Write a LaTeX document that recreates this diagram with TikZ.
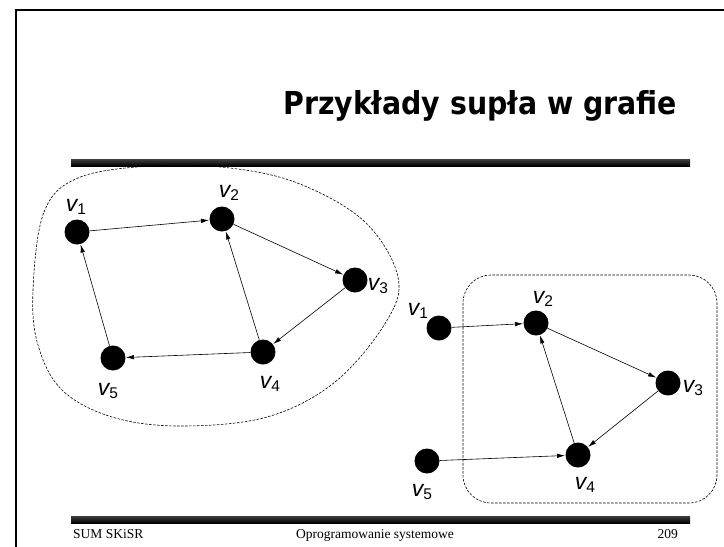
\documentclass[tikz,border=0pt]{standalone}
\usepackage{fontspec}
\setmainfont{Liberation Serif}
\newfontfamily\labfont{Liberation Sans}
\newfontfamily\titlefont{DejaVu Sans}
\usetikzlibrary{arrows.meta}
\newcommand{\vlab}[1]{{\labfont\fontsize{23}{23}\selectfont\itshape v}\raisebox{-2.5pt}{\labfont\fontsize{15.5}{15.5}\selectfont #1}}
\tikzset{
  vert/.style={circle,fill=black,minimum size=25pt,inner sep=0pt},
  lab/.style={inner sep=0pt,anchor=center},
  edge/.style={line width=0.6pt,-{Latex[length=8pt,width=4.5pt]},shorten >=0.3pt},
  outline/.style={line width=0.6pt,dash pattern=on 2.5pt off 1.5pt},
  rulebar/.style={top color=black!75,bottom color=black},
  foot/.style={inner sep=0pt,font=\fontsize{13.5}{13.5}\selectfont}
}
\begin{document}
\begin{tikzpicture}[x=1pt,y=-1pt]
\useasboundingbox (0,0) rectangle (724,547);
\fill[white] (0,0) rectangle (724,547);
% frame
\draw[line width=2.5pt] (16,560) -- (16,10) -- (740,10);
% title
\node[inner sep=0pt,anchor=base west] (title) at (283,114)
  {\resizebox{394pt}{24pt}{\titlefont\bfseries\fontsize{30}{30}\selectfont Przykłady supła w grafie}};
% rules
\shade[rulebar] (71,159) rectangle (690,166);
\shade[rulebar] (71,516) rectangle (690,523);
% footer
\node[foot,anchor=base west] (f1) at (73,538) {SUM SKiSR};
\node[foot,anchor=base] (f2) at (375,538) {Oprogramowanie systemowe};
\node[foot,anchor=base east] (f3) at (678,538) {209};
% left outline
\draw[outline] plot[smooth cycle,tension=0.6] coordinates {
 (33,290) (44,212) (78,178) (150,166) (230,168) (300,184) (365,222)
 (398,277) (386,322) (335,382) (267,417) (180,426) (112,417) (62,390) (38,345)};
% right outline
\draw[outline,rounded corners=28pt] (463,275) rectangle (717,503);
% left graph
\node[vert] (a1) at (77,232) {};
\node[vert] (a2) at (222,219) {};
\node[vert] (a3) at (355,280) {};
\node[vert] (a4) at (263,352) {};
\node[vert] (a5) at (113,358) {};
\node[lab] (la1) at (76,207) {\vlab{1}};
\node[lab] (la2) at (229,193) {\vlab{2}};
\node[lab] (la3) at (378,286) {\vlab{3}};
\node[lab] (la4) at (270,384) {\vlab{4}};
\node[lab] (la5) at (108,391) {\vlab{5}};
\draw[edge] (a1) -- (a2);
\draw[edge] (a2) -- (a3);
\draw[edge] (a3) -- (a4);
\draw[edge] (a4) -- (a2);
\draw[edge] (a4) -- (a5);
\draw[edge] (a5) -- (a1);
% right graph
\node[vert] (b1) at (439,328) {};
\node[vert] (b2) at (536,323) {};
\node[vert] (b3) at (668,383) {};
\node[vert] (b4) at (578,455) {};
\node[vert] (b5) at (427,461) {};
\node[lab] (lb1) at (418,311) {\vlab{1}};
\node[lab] (lb2) at (543,299) {\vlab{2}};
\node[lab] (lb3) at (693,388) {\vlab{3}};
\node[lab] (lb4) at (585,485) {\vlab{4}};
\node[lab] (lb5) at (422,492) {\vlab{5}};
\draw[edge] (b1) -- (b2);
\draw[edge] (b2) -- (b3);
\draw[edge] (b3) -- (b4);
\draw[edge] (b4) -- (b2);
\draw[edge] (b5) -- (b4);
\end{tikzpicture}
\end{document}
